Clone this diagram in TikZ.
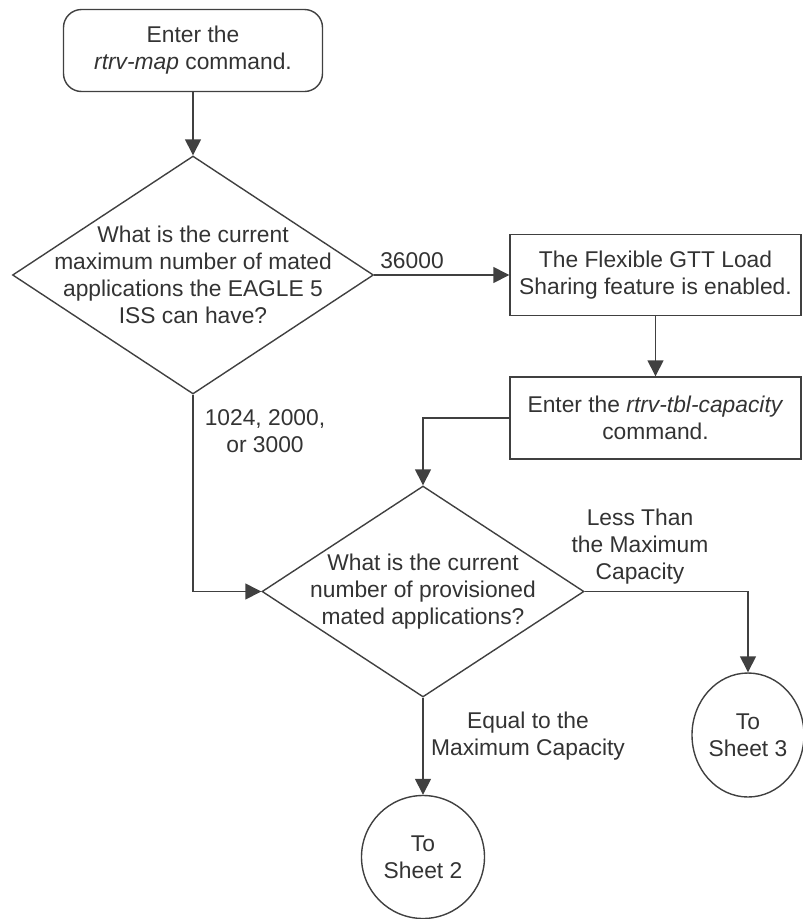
\documentclass[tikz,border=0pt]{standalone}
\usepackage{fontspec}
\setmainfont{Liberation Sans}
\usetikzlibrary{shapes.geometric,arrows.meta}

\begin{document}
\begin{tikzpicture}[
        x=1pt, y=-1pt,
        every node/.style={font=\fontsize{22.8}{27}\selectfont, text=black!80},
        process_box/.style={rectangle, draw=black!75, line width=1.4pt, minimum width=291pt, minimum height=81pt, align=center, inner sep=0pt},
        start_box/.style={process_box, rounded corners=18pt, minimum width=259pt, minimum height=82pt},
        decision/.style={diamond, draw=black!75, line width=1.4pt, inner sep=0pt},
        question/.style={align=center, inner sep=0pt},
        sheet_circle/.style={ellipse, draw=black!75, line width=1.4pt, minimum width=123pt, minimum height=123pt, align=center, inner sep=0pt},
        branch_label/.style={align=center, inner sep=0pt},
        arrow/.style={-{Triangle[length=16pt, width=16pt]}, draw=black!75, line width=1.4pt}
    ]
    \useasboundingbox (0,0) rectangle (803,919);

    % Start: retrieve the mated application table
    \node[start_box] (start) at (193, 50.5) {Enter the\\\textit{rtrv-map} command.};

    % First decision: maximum number of mated applications
    \node[decision, minimum width=361pt, minimum height=238pt] (q1) at (193, 275) {};
    \node[question] (q1_text) at (q1.center) {What is the current\\maximum number of mated\\applications the EAGLE 5\\ISS can have?};

    % 36000 branch
    \node[process_box] (flex) at (655.5, 275) {The Flexible GTT Load\\Sharing feature is enabled.};
    \node[process_box, minimum height=82pt] (tblcap) at (655.5, 418) {Enter the \textit{rtrv-tbl-capacity}\\command.};

    % Second decision: provisioned mated applications
    \node[decision, minimum width=322pt, minimum height=211pt] (q2) at (423, 591.5) {};
    \node[question] (q2_text) at (q2.center) {What is the current\\number of provisioned\\mated applications?};

    % Off-page connectors
    \node[sheet_circle] (sheet2) at (423, 857) {To\\Sheet 2};
    \node[sheet_circle, minimum width=112pt, minimum height=124pt] (sheet3) at (748, 735) {To\\Sheet 3};

    % Connectors
    \draw[arrow] (start.south) -- (q1.north);
    \draw[arrow] (q1.east) -- (flex.west);
    \draw[arrow] (flex.south) -- (tblcap.north);
    \draw[arrow] (tblcap.west) -| (q2.north);
    \draw[arrow] (q1.south) |- (q2.west);
    \draw[arrow] (q2.east) -| (sheet3.north);
    \draw[arrow] (q2.south) -- (sheet2.north);

    % Branch labels
    \node[branch_label] (lbl_36000) at (412, 261) {36000};
    \node[branch_label] (lbl_small) at (265, 431) {1024, 2000,\\or 3000};
    \node[branch_label] (lbl_less) at (640, 547) {Less Than\\the Maximum\\Capacity};
    \node[branch_label] (lbl_equal) at (528, 736) {Equal to the\\Maximum Capacity};

\end{tikzpicture}
\end{document}
